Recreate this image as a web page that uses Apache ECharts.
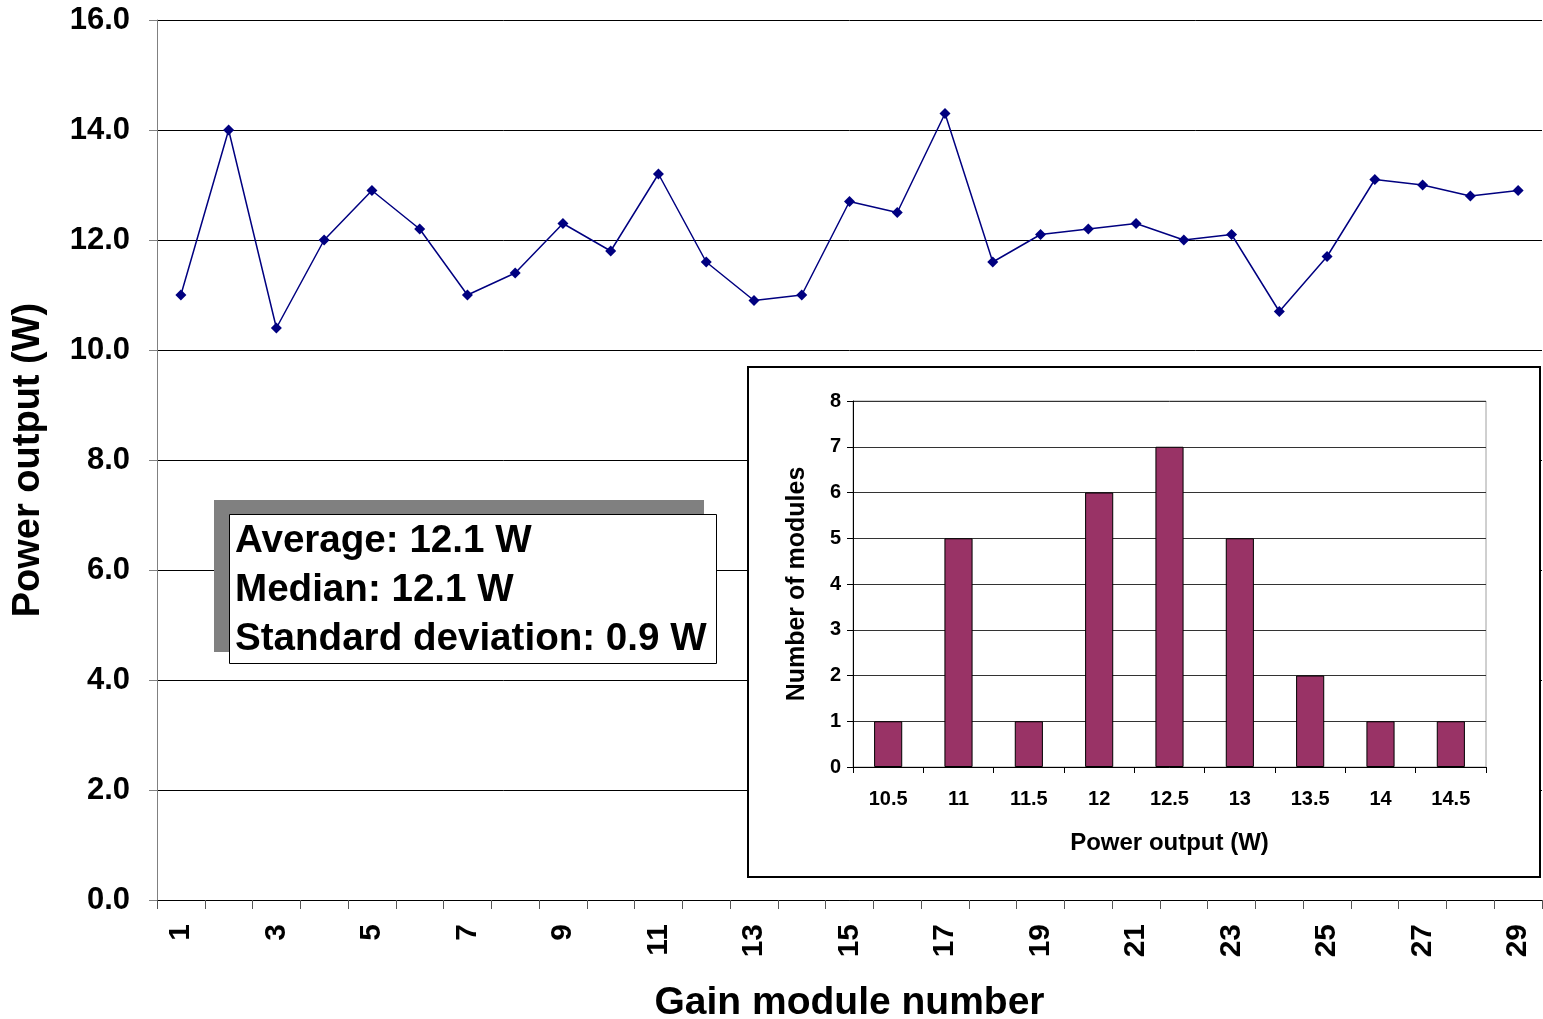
<!DOCTYPE html>
<html><head><meta charset="utf-8">
<script src="https://cdn.jsdelivr.net/npm/echarts@6/dist/echarts.min.js"></script>
<style>html,body{margin:0;padding:0;background:#fff}#c{width:1543px;height:1019px}</style>
</head><body><div id="c"></div>
<script>
const moduleNumbers = ['1','2','3','4','5','6','7','8','9','10','11','12','13','14','15','16','17','18','19','20','21','22','23','24','25','26','27','28','29'];
const powerOutput = [11.0,14.0,10.4,12.0,12.9,12.2,11.0,11.4,12.3,11.8,13.2,11.6,10.9,11.0,12.7,12.5,14.3,11.6,12.1,12.2,12.3,12.0,12.1,10.7,11.7,13.1,13.0,12.8,12.9];
const histBins = ['10.5','11','11.5','12','12.5','13','13.5','14','14.5'];
const histCounts = [1,5,1,6,7,5,2,1,1];
const statsLines = ['Average: 12.1 W','Median: 12.1 W','Standard deviation: 0.9 W'];

const F = 'Liberation Sans, Arial, sans-serif';
const FN = 'Liberation Sans Narrow, Liberation Sans, Arial, sans-serif';
const chart = echarts.init(document.getElementById('c'));
chart.setOption({
  animation: false,
  backgroundColor: '#fff',
  grid: [
    {left: 157, right: 1, top: 20, bottom: 119, containLabel: false, outerBoundsMode: 'none'},
    {left: 853, width: 633, top: 401, height: 366, containLabel: false, outerBoundsMode: 'none', show: true, borderColor: '#a0a0a0', borderWidth: 1, backgroundColor: 'transparent', z: 2}
  ],
  xAxis: [
    {type: 'category', gridIndex: 0, data: moduleNumbers, boundaryGap: true,
     name: 'Gain module number', nameLocation: 'middle', nameGap: 84,
     nameTextStyle: {fontFamily: F, fontWeight: 'bold', fontSize: 39, color: '#000'},
     axisLine: {lineStyle: {color: '#000', width: 1}},
     axisTick: {show: true, interval: 0, length: 9, lineStyle: {color: '#555'}},
     axisLabel: {interval: 1, rotate: 90, margin: 24, fontFamily: F, fontWeight: 'bold', fontSize: 30, color: '#000'}},
    {type: 'category', gridIndex: 1, data: histBins, boundaryGap: true, z: 3,
     name: 'Power output (W)', nameLocation: 'middle', nameGap: 64,
     nameTextStyle: {fontFamily: FN, fontWeight: 'bold', fontSize: 24, color: '#000'},
     axisLine: {lineStyle: {color: '#000', width: 1}},
     axisTick: {show: true, interval: 0, length: 6, lineStyle: {color: '#000'}},
     axisLabel: {interval: 0, margin: 22, fontFamily: FN, fontWeight: 'bold', fontSize: 20, color: '#000'}}
  ],
  yAxis: [
    {type: 'value', gridIndex: 0, min: 0, max: 16, interval: 2,
     name: 'Power output (W)', nameLocation: 'middle', nameGap: 109,
     nameTextStyle: {fontFamily: F, fontWeight: 'bold', fontSize: 38, color: '#000'},
     axisLine: {show: true, lineStyle: {color: '#808080', width: 1}},
     axisTick: {show: true, length: 8, lineStyle: {color: '#808080'}},
     axisLabel: {formatter: v => v.toFixed(1), margin: 27, fontFamily: F, fontWeight: 'bold', fontSize: 31, color: '#000'},
     splitLine: {lineStyle: {color: '#000', width: 1}}},
    {type: 'value', gridIndex: 1, min: 0, max: 8, interval: 1, z: 3,
     name: 'Number of modules', nameLocation: 'middle', nameGap: 43,
     nameTextStyle: {fontFamily: F, fontWeight: 'bold', fontSize: 25, color: '#000'},
     axisLine: {show: true, lineStyle: {color: '#000', width: 1}},
     axisTick: {show: true, length: 6, lineStyle: {color: '#000'}},
     axisLabel: {margin: 12, fontFamily: FN, fontWeight: 'bold', fontSize: 20, color: '#000'},
     splitLine: {lineStyle: {color: '#333', width: 1}}}
  ],
  graphic: [
    {type: 'rect', z: 1, shape: {x: 748, y: 367, width: 792, height: 510}, style: {fill: '#fff', stroke: '#000', lineWidth: 2}},
    {type: 'rect', z: 1, shape: {x: 214, y: 500, width: 490, height: 152}, style: {fill: '#808080'}},
    {type: 'rect', z: 1, shape: {x: 229.5, y: 514.5, width: 487, height: 149}, style: {fill: '#fff', stroke: '#000', lineWidth: 1}},
    {type: 'text', z: 2, left: 235, top: 517, style: {text: statsLines.join('\n'), fontFamily: F, fontWeight: 'bold', fontSize: 38.6, lineHeight: 49, fill: '#000'}}
  ],
  series: [
    {type: 'line', xAxisIndex: 0, yAxisIndex: 0, data: powerOutput, symbol: 'diamond', symbolSize: 11,
     lineStyle: {color: '#000080', width: 1.5}, itemStyle: {color: '#000080'}, z: 5},
    {type: 'bar', xAxisIndex: 1, yAxisIndex: 1, data: histCounts, barWidth: '40%', z: 4,
     itemStyle: {color: '#993366', borderColor: '#000', borderWidth: 1}}
  ]
});
</script></body></html>
